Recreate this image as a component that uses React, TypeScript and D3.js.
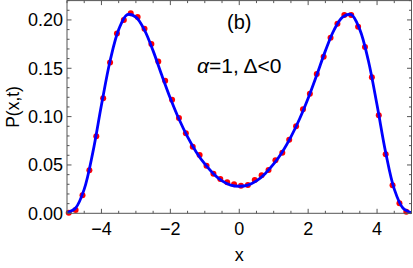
import React from "react";
import * as d3 from "d3";

// curve, sampled every 0.25 in x
const curveX = d3.range(-5, 5.0001, 0.25);
const curveY = [
  0.0005, 0.0055, 0.025, 0.063, 0.112, 0.1575, 0.19, 0.2055, 0.203, 0.1895, 0.168,
  0.143, 0.119, 0.0975, 0.079, 0.0635, 0.051, 0.041, 0.0335, 0.0292, 0.028,
  0.0292, 0.0335, 0.041, 0.051, 0.0635, 0.079, 0.0975, 0.119, 0.143, 0.168,
  0.1895, 0.203, 0.2055, 0.19, 0.1575, 0.112, 0.063, 0.025, 0.0055, 0.0005,
];

// red points, x = -4.95 + 0.2k
const dotX = d3.range(50).map((k) => -4.95 + 0.2 * k);
const dotY = [
  0.0005, 0.0034, 0.0186, 0.0445, 0.0796, 0.119, 0.156, 0.186, 0.2, 0.207,
  0.203, 0.191, 0.175, 0.157, 0.137, 0.1175, 0.0986, 0.0828, 0.0689, 0.0603,
  0.0493, 0.041, 0.0355, 0.032, 0.03, 0.0286, 0.0293, 0.0344, 0.0393, 0.0448,
  0.055, 0.0627, 0.076, 0.09, 0.1076, 0.1237, 0.144, 0.162, 0.1817, 0.196,
  0.205, 0.205, 0.193, 0.172, 0.1407, 0.1014, 0.061, 0.029, 0.0103, 0.0017,
];

const xTicks = [-4, -2, 0, 2, 4];
const yTicks = [0, 0.05, 0.1, 0.15, 0.2];

const W = 413;
const H = 268;
const left = 67;
const right = 411.5;
const top = 0.6;
const bottom = 213.3;

export default function App() {
  const x = d3.scaleLinear().domain([-5, 5]).range([left, right]);
  const y = d3.scaleLinear().domain([0, 0.22]).range([bottom, top]);

  const line = d3
    .line<number>()
    .x((_, i) => x(curveX[i]))
    .y((d) => y(d))
    .curve(d3.curveCatmullRom);

  const xMinor = d3.range(-5, 5.0001, 0.5).filter((v) => Math.abs(v % 2) > 1e-6);
  const yMinor = d3.range(0, 0.2201, 0.01).filter((v) => !yTicks.some((t) => Math.abs(t - v) < 1e-6));
  const frame = "#555";
  const font = "Liberation Sans, Arial, sans-serif";

  return (
    <svg width={W} height={H} style={{ position: "absolute", left: 0, top: 0, background: "#fff" }}>
      <g>
        {dotX.map((v, i) => (
          <circle key={i} cx={x(v)} cy={y(dotY[i])} r={3} fill="#ff0000" />
        ))}
      </g>
      <path d={line(curveY) ?? ""} fill="none" stroke="#0000ff" strokeWidth={2.8} />
      <rect x={left} y={top} width={right - left} height={bottom - top} fill="none" stroke={frame} strokeWidth={1} />
      {xTicks.map((t) => (
        <g key={"xt" + t}>
          <line x1={x(t)} x2={x(t)} y1={bottom} y2={bottom - 4.5} stroke={frame} />
          <line x1={x(t)} x2={x(t)} y1={top} y2={top + 4.5} stroke={frame} />
          <text x={x(t)} y={235} textAnchor="middle" fontSize={18} fontFamily={font}>
            {t < 0 ? "\u2212" + Math.abs(t) : String(t)}
          </text>
        </g>
      ))}
      {xMinor.map((t) => (
        <g key={"xm" + t}>
          <line x1={x(t)} x2={x(t)} y1={bottom} y2={bottom - 2.5} stroke={frame} />
          <line x1={x(t)} x2={x(t)} y1={top} y2={top + 2.5} stroke={frame} />
        </g>
      ))}
      {yTicks.map((t) => (
        <g key={"yt" + t}>
          <line x1={left} x2={left + 4.5} y1={y(t)} y2={y(t)} stroke={frame} />
          <line x1={right} x2={right - 4.5} y1={y(t)} y2={y(t)} stroke={frame} />
          <text x={63} y={y(t) + 6.4} textAnchor="end" fontSize={18} fontFamily={font}>
            {t.toFixed(2)}
          </text>
        </g>
      ))}
      {yMinor.map((t) => (
        <g key={"ym" + t}>
          <line x1={left} x2={left + 2.5} y1={y(t)} y2={y(t)} stroke={frame} />
          <line x1={right} x2={right - 2.5} y1={y(t)} y2={y(t)} stroke={frame} />
        </g>
      ))}
      <text x={x(0)} y={261} textAnchor="middle" fontSize={18} fontFamily={font}>
        x
      </text>
      <text
        transform={`translate(19,${y(0.11)}) rotate(-90)`}
        textAnchor="middle"
        fontSize={17.5}
        fontFamily={font}
      >
        P(x,t)
      </text>
      <text x={x(0)} y={29} textAnchor="middle" fontSize={20} fontFamily={font}>
        (b)
      </text>
      <text x={x(0)} y={72.5} textAnchor="middle" fontSize={21} fontFamily={font}>
        <tspan fontStyle="italic">α</tspan>=1, Δ&lt;0
      </text>
    </svg>
  );
}
